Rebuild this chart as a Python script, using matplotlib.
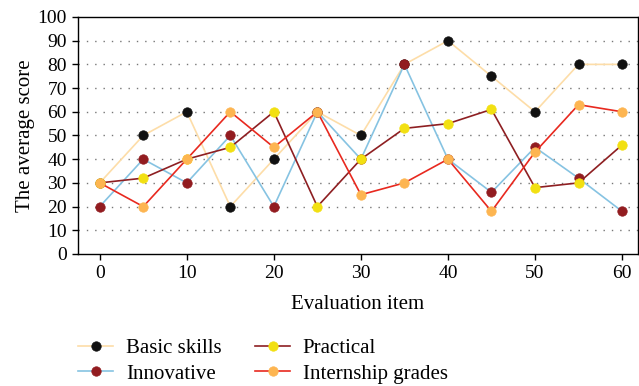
"""
average score per evaluation item, four series
"""

import matplotlib
matplotlib.use('Agg')
from matplotlib import pyplot as plt

items = [0, 5, 10, 15, 20, 25, 30, 35, 40, 45, 50, 55, 60]
basic_skills = [30, 50, 60, 20, 40, 60, 50, 80, 90, 75, 60, 80, 80]
innovative = [20, 40, 30, 50, 20, 60, 40, 80, 40, 26, 45, 32, 18]
practical = [30, 32, 40, 45, 60, 20, 40, 53, 55, 61, 28, 30, 46]
internship = [30, 20, 40, 60, 45, 60, 25, 30, 40, 18, 43, 63, 60]

series_names = ['Basic skills', 'Innovative', 'Practical', 'Internship grades']
line_colors = ['#FDDDA8', '#86C3E2', '#8E1F22', '#E8291F']
marker_colors = ['#111111', '#921C20', '#F2E012', '#FDB551']

plt.rcParams['font.family'] = ['Liberation Serif', 'DejaVu Serif']
plt.rcParams['font.size'] = 15

fig = plt.figure(figsize=(6.39, 3.86), dpi=100)
ax = fig.add_axes([0.122, 0.342, 0.876, 0.614])

for name, vals, lc, mc in zip(series_names, [basic_skills, innovative, practical, internship],
                              line_colors, marker_colors):
    ax.plot(items, vals, color=lc, lw=1.2, marker='o', ms=6.8,
            markerfacecolor=mc, markeredgecolor=mc, markeredgewidth=0.5, label=name)

ax.set_xlim(-2.5, 61.8)
ax.set_ylim(0, 100)
ax.set_xticks(range(0, 61, 10))
ax.set_yticks(range(0, 101, 10))
for v in range(10, 100, 10):
    ax.axhline(v, color='#777777', lw=1.0, ls=(0, (1, 5)), zorder=0)
ax.tick_params(direction='out', length=4, width=1, labelsize=14, pad=4)
for s in ax.spines.values():
    s.set_linewidth(1.0)

ax.set_xlabel('Evaluation item', fontsize=15, labelpad=9)
ax.set_ylabel('The average score', fontsize=15, labelpad=2)

fig.legend(loc='center left', bbox_to_anchor=(78 / 639, 1 - 361 / 386), ncol=2, frameon=False,
           fontsize=15, handlelength=1.7, columnspacing=1.6, labelspacing=0.3,
           handletextpad=0.6, borderaxespad=0, borderpad=0)

plt.savefig('out.png', dpi=100)
